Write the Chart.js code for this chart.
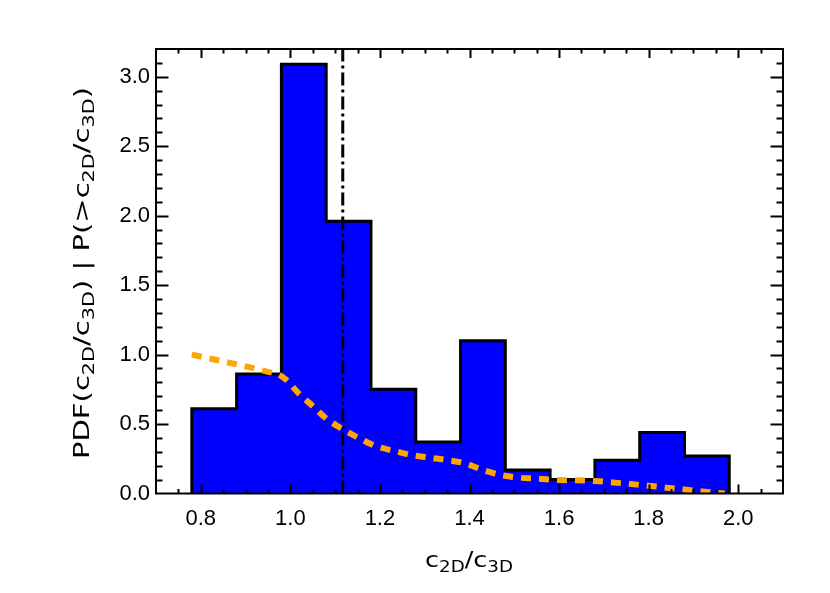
<!DOCTYPE html>
<html><head><meta charset="utf-8">
<script src="https://cdn.jsdelivr.net/npm/chart.js@4.4.1/dist/chart.umd.min.js"></script>
<style>html,body{margin:0;padding:0;background:#fff;} canvas{display:block;}</style>
</head><body>
<canvas id="c" width="830" height="593"></canvas>
<script>
// ---- data ----
const binEdges  = [0.78, 0.88, 0.98, 1.08, 1.18, 1.28, 1.38, 1.48, 1.58, 1.68, 1.78, 1.88, 1.98];
const pdfValues = [0.61, 0.86, 3.09, 1.96, 0.75, 0.37, 1.10, 0.17, 0.10, 0.24, 0.44, 0.27];
const cumX = [0.78, 0.83, 0.87, 0.91, 0.95, 0.97, 0.99, 1.02, 1.05, 1.08, 1.11, 1.15, 1.19, 1.24, 1.27, 1.31, 1.35, 1.39, 1.43, 1.47, 1.51, 1.55, 1.60, 1.64, 1.68, 1.72, 1.76, 1.80, 1.84, 1.89, 1.93, 1.97];
const cumY = [1.00, 0.965, 0.937, 0.908, 0.876, 0.862, 0.82, 0.716, 0.63, 0.54, 0.476, 0.404, 0.342, 0.30, 0.277, 0.258, 0.241, 0.217, 0.169, 0.133, 0.114, 0.107, 0.097, 0.095, 0.09, 0.08, 0.068, 0.056, 0.042, 0.025, 0.011, 0.0];
const medianRatio = [1.117];
const xTickValues = [0.8, 1.0, 1.2, 1.4, 1.6, 1.8, 2.0];
const xTickLabels = ['0.8', '1.0', '1.2', '1.4', '1.6', '1.8', '2.0'];
const yTickValues = [0, 0.5, 1.0, 1.5, 2.0, 2.5, 3.0];
const yTickLabels = ['0.0', '0.5', '1.0', '1.5', '2.0', '2.5', '3.0'];
const xRange = [0.7, 2.1];
const yRange = [0, 3.2];

// ---- derived datasets ----
const barPoints = pdfValues.map((v, i) => ({x: (binEdges[i] + binEdges[i + 1]) / 2, y: v}));
const stepPoints = [{x: binEdges[0], y: 0}]
  .concat(pdfValues.map((v, i) => ({x: binEdges[i], y: v})))
  .concat([{x: binEdges[binEdges.length - 1], y: 0}]);
const cumPoints = cumX.map((x, i) => ({x: x, y: cumY[i]}));
const medPoints = [{x: medianRatio[0], y: yRange[0]}, {x: medianRatio[0], y: yRange[1]}];

const framePlugin = {
  id: 'frame',
  afterDatasetsDraw(chart) {
    const {ctx, chartArea: a, scales: {x, y}} = chart;
    ctx.save();
    ctx.strokeStyle = '#000';
    ctx.lineWidth = 2;
    ctx.beginPath();
    for (let k = Math.ceil(xRange[0] / 0.05 + 1e-6); k * 0.05 < xRange[1] - 1e-6; k++) {
      const v = k * 0.05;
      const major = xTickValues.some(t => Math.abs(t - v) < 1e-6);
      const L = major ? 9 : 4.5;
      const px = Math.round(x.getPixelForValue(v)) + 0.5;
      ctx.moveTo(px, a.bottom); ctx.lineTo(px, a.bottom - L);
      ctx.moveTo(px, a.top); ctx.lineTo(px, a.top + L);
    }
    for (let k = 1; k * 0.1 < yRange[1] - 1e-6; k++) {
      const v = k * 0.1;
      const major = yTickValues.some(t => Math.abs(t - v) < 1e-6);
      const L = major ? 12.5 : 6.5;
      const py = Math.round(y.getPixelForValue(v)) + 0.5;
      ctx.moveTo(a.left, py); ctx.lineTo(a.left + L, py);
      ctx.moveTo(a.right, py); ctx.lineTo(a.right - L, py);
    }
    ctx.stroke();
    ctx.lineWidth = 2;
    ctx.strokeRect(a.left, a.top, a.right - a.left, a.bottom - a.top);
    ctx.restore();
  }
};

function drawRich(ctx, parts, baseFont, subFont, subDy, targetW) {
  let w = 0;
  parts.forEach(p => { ctx.font = p.s ? subFont : baseFont; w += ctx.measureText(p.t).width; });
  ctx.scale(targetW / w, 1);
  let xx = -w / 2;
  ctx.textBaseline = 'alphabetic';
  ctx.textAlign = 'left';
  parts.forEach(p => {
    ctx.font = p.s ? subFont : baseFont;
    ctx.fillText(p.t, xx, p.s ? subDy : 0);
    xx += ctx.measureText(p.t).width;
  });
}

const ratioParts = [{t: 'c'}, {t: '2D', s: 1}, {t: '/'}, {t: 'c'}, {t: '3D', s: 1}];
const yTitleParts = [{t: 'PDF('}].concat(ratioParts, [{t: ') | P(>'}], ratioParts, [{t: ')'}]);

const titlePlugin = {
  id: 'titles',
  afterDraw(chart) {
    const {ctx, chartArea: a} = chart;
    ctx.save();
    ctx.fillStyle = '#000';
    ctx.translate((a.left + a.right) / 2 - 0.5, 567);
    drawRich(ctx, ratioParts, '21px "DejaVu Sans"', '15px "DejaVu Sans"', 5, 88);
    ctx.restore();
    ctx.save();
    ctx.fillStyle = '#000';
    ctx.translate(89, 273);
    ctx.rotate(-Math.PI / 2);
    drawRich(ctx, yTitleParts, '21px "DejaVu Sans"', '15px "DejaVu Sans"', 5, 372);
    ctx.restore();
  }
};

new Chart(document.getElementById('c'), {
  type: 'bar',
  data: {
    datasets: [
      {type: 'bar', data: barPoints, backgroundColor: '#0000FF', borderWidth: 0,
       barPercentage: 1, categoryPercentage: 1, grouped: false, inflateAmount: 0.6, order: 4},
      {type: 'line', data: stepPoints, stepped: 'before', borderColor: '#000', borderWidth: 3,
       pointRadius: 0, fill: false, order: 3},
      {type: 'line', data: medPoints, borderColor: '#000', borderWidth: 3, borderDash: [13, 4, 3, 4],
       pointRadius: 0, fill: false, order: 2},
      {type: 'line', data: cumPoints, borderColor: '#FFA500', borderWidth: 6, borderDash: [10, 8],
       cubicInterpolationMode: 'monotone', pointRadius: 0, fill: false, order: 1}
    ]
  },
  options: {
    responsive: false,
    animation: false,
    devicePixelRatio: 1,
    layout: {padding: {left: 0, top: 49, right: 47, bottom: 0}},
    plugins: {legend: {display: false}, tooltip: {enabled: false}},
    scales: {
      x: {
        type: 'linear', min: xRange[0], max: xRange[1], offset: false,
        grid: {display: false, drawTicks: false}, border: {display: false},
        afterBuildTicks: s => { s.ticks = xTickValues.map(v => ({value: v})); },
        afterFit: s => { s.height = 99.5; },
        ticks: {autoSkip: false, maxRotation: 0, padding: 12, color: '#000',
                font: {family: '"Liberation Sans", Arial, sans-serif', size: 22},
                callback: (v, i) => xTickLabels[i]}
      },
      y: {
        type: 'linear', min: yRange[0], max: yRange[1],
        grid: {display: false, drawTicks: false}, border: {display: false},
        afterBuildTicks: s => { s.ticks = yTickValues.map(v => ({value: v})); },
        afterFit: s => { s.width = 156; },
        ticks: {autoSkip: false, padding: 6, color: '#000',
                font: {family: '"Liberation Sans", Arial, sans-serif', size: 22},
                callback: (v, i) => yTickLabels[i]}
      }
    }
  },
  plugins: [framePlugin, titlePlugin]
});
</script>
</body></html>
